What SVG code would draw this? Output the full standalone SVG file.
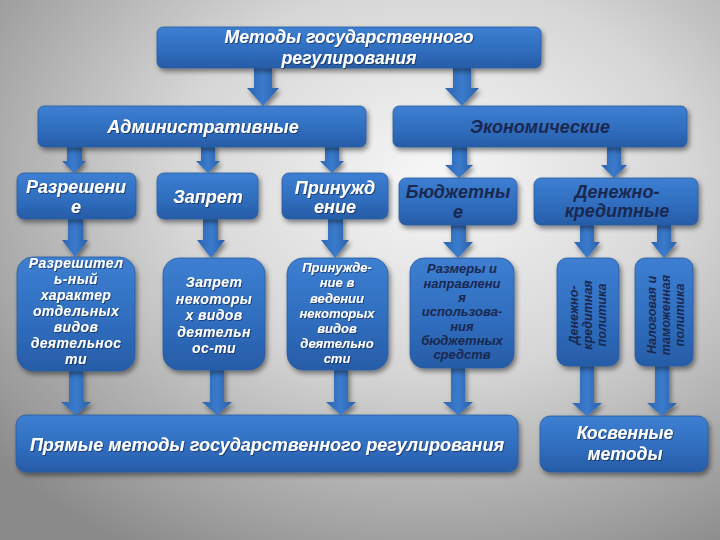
<svg xmlns="http://www.w3.org/2000/svg" width="720" height="540" viewBox="0 0 720 540">
  <defs>
    <radialGradient id="bg" cx="0.6" cy="0.33" r="0.8" fx="0.6" fy="0.33">
      <stop offset="0" stop-color="#f7f7f7"/>
      <stop offset="0.45" stop-color="#d6d6d6"/>
      <stop offset="1" stop-color="#8a8a8a"/>
    </radialGradient>
    <linearGradient id="boxg" x1="0" y1="0" x2="0" y2="1">
      <stop offset="0" stop-color="#3d7fd2"/>
      <stop offset="0.6" stop-color="#2f6cbd"/>
      <stop offset="1" stop-color="#275ca6"/>
    </linearGradient>
    <linearGradient id="arrg" x1="0" y1="0" x2="1" y2="0">
      <stop offset="0" stop-color="#2d65b2"/>
      <stop offset="0.5" stop-color="#3a7bcc"/>
      <stop offset="1" stop-color="#2a5fa8"/>
    </linearGradient>
    <filter id="sh" x="-10%" y="-10%" width="125%" height="135%">
      <feDropShadow dx="2" dy="3" stdDeviation="2.5" flood-color="#000" flood-opacity="0.45"/>
    </filter>
    <filter id="tsh" x="-5%" y="-20%" width="110%" height="150%">
      <feDropShadow dx="1" dy="1" stdDeviation="0.6" flood-color="#0a1a3a" flood-opacity="0.6"/>
    </filter>
  </defs>
  <style>
    .box { fill: url(#boxg); stroke: #2a5a9e; stroke-width: 0.8; filter: url(#sh); }
    .arr { fill: url(#arrg); filter: url(#sh); }
    text { font-family: "Liberation Sans", Arial, sans-serif; font-weight: bold; font-style: italic; text-anchor: middle; }
    .w { fill: #ffffff; filter: url(#tsh); }
    .n { fill: #1a2850; }
    .f18 { font-size: 18px; }
    .f17 { font-size: 17.6px; }
    .f14 { font-size: 14px; letter-spacing: 0.4px; }
    .f13 { font-size: 13px; }
    .f12 { font-size: 12.5px; }
  </style>

  <rect x="0" y="0" width="720" height="540" fill="url(#bg)"/>

  <g id="connectors">
    <polygon class="arr" points="254,66 272,66 272,88 279,88 263,106 247,88 254,88"/>
    <polygon class="arr" points="453,66 471,66 471,88 479,88 462,106 445,88 453,88"/>
    <polygon class="arr" points="67,145 82,145 82,161 86,161 74,173 62,161 67,161"/>
    <polygon class="arr" points="201,145 215,145 215,161 220,161 208,173 196,161 201,161"/>
    <polygon class="arr" points="325,145 339,145 339,161 344,161 332,173 320,161 325,161"/>
    <polygon class="arr" points="452,145 467,145 467,165 473,165 459,178 445,165 452,165"/>
    <polygon class="arr" points="607,145 621,145 621,165 627,165 614,178 601,165 607,165"/>
    <polygon class="arr" points="68,217 83,217 83,240 88,240 75,257 62,240 68,240"/>
    <polygon class="arr" points="203,217 218,217 218,240 225,240 211,258 197,240 203,240"/>
    <polygon class="arr" points="328,217 343,217 343,240 349,240 335,258 321,240 328,240"/>
    <polygon class="arr" points="451,223 466,223 466,242 473,242 458,258 443,242 451,242"/>
    <polygon class="arr" points="580,223 594,223 594,242 600,242 587,258 574,242 580,242"/>
    <polygon class="arr" points="657,223 671,223 671,242 677,242 664,258 651,242 657,242"/>
    <polygon class="arr" points="69,368 83,368 83,402 91,402 76,415 61,402 69,402"/>
    <polygon class="arr" points="210,368 224,368 224,402 232,402 217,415 202,402 210,402"/>
    <polygon class="arr" points="334,368 348,368 348,402 356,402 341,415 326,402 334,402"/>
    <polygon class="arr" points="451,366 465,366 465,402 473,402 458,415 443,402 451,402"/>
    <polygon class="arr" points="580,364 594,364 594,403 602,403 587,416 572,403 580,403"/>
    <polygon class="arr" points="655,364 669,364 669,403 677,403 662,416 647,403 655,403"/>
  </g>

  <g id="n-top">
    <rect class="box" x="157" y="27" width="384" height="41" rx="6"/>
    <text class="w f17" x="349" y="43">Методы государственного</text>
    <text class="w f17" x="349" y="64">регулирования</text>
  </g>

  <g id="n-admin">
    <rect class="box" x="38" y="106" width="328" height="41" rx="6"/>
    <text class="w f18" x="203" y="133">Административные</text>
  </g>

  <g id="n-econ">
    <rect class="box" x="393" y="106" width="294" height="41" rx="6"/>
    <text class="n f18" x="540" y="133">Экономические</text>
  </g>

  <g id="n-razresh">
    <rect class="box" x="17" y="173" width="119" height="46" rx="7"/>
    <text class="w f18" x="76" y="193">Разрешени</text>
    <text class="w f18" x="76" y="213">е</text>
  </g>

  <g id="n-zapret">
    <rect class="box" x="157" y="173" width="101" height="46" rx="7"/>
    <text class="w f18" x="208" y="203">Запрет</text>
  </g>

  <g id="n-prinuzh">
    <rect class="box" x="282" y="173" width="106" height="46" rx="7"/>
    <text class="w f18" x="335" y="194">Принужд</text>
    <text class="w f18" x="335" y="213">ение</text>
  </g>

  <g id="n-budget">
    <rect class="box" x="399" y="178" width="118" height="47" rx="7"/>
    <text class="n f18" x="458" y="198">Бюджетны</text>
    <text class="n f18" x="458" y="218">е</text>
  </g>

  <g id="n-denkred">
    <rect class="box" x="534" y="178" width="164" height="47" rx="7"/>
    <text class="n f18" x="617" y="198">Денежно-</text>
    <text class="n f18" x="617" y="217">кредитные</text>
  </g>

  <g id="n-razresh-detail">
    <rect class="box" x="17" y="257" width="118" height="114" rx="16"/>
    <text class="w f14" x="76" y="268">Разрешител</text>
    <text class="w f14" x="76" y="284">ь-ный</text>
    <text class="w f14" x="76" y="300">характер</text>
    <text class="w f14" x="76" y="316">отдельных</text>
    <text class="w f14" x="76" y="332">видов</text>
    <text class="w f14" x="76" y="348">деятельнос</text>
    <text class="w f14" x="76" y="364">ти</text>
  </g>

  <g id="n-zapret-detail">
    <rect class="box" x="163" y="258" width="102" height="112" rx="16"/>
    <text class="w f14" x="214" y="287">Запрет</text>
    <text class="w f14" x="214" y="303.5">некоторы</text>
    <text class="w f14" x="214" y="320">х видов</text>
    <text class="w f14" x="214" y="336.5">деятельн</text>
    <text class="w f14" x="214" y="353">ос-ти</text>
  </g>

  <g id="n-prinuzh-detail">
    <rect class="box" x="287" y="258" width="101" height="112" rx="16"/>
    <text class="w f13" x="337" y="272">Принужде-</text>
    <text class="w f13" x="337" y="287">ние в</text>
    <text class="w f13" x="337" y="302.5">ведении</text>
    <text class="w f13" x="337" y="317.5">некоторых</text>
    <text class="w f13" x="337" y="333">видов</text>
    <text class="w f13" x="337" y="348">деятельно</text>
    <text class="w f13" x="337" y="363">сти</text>
  </g>

  <g id="n-budget-detail">
    <rect class="box" x="410" y="258" width="104" height="110" rx="14"/>
    <text class="n f13" x="462" y="273">Размеры и</text>
    <text class="n f13" x="462" y="287.5">направлени</text>
    <text class="n f13" x="462" y="302">я</text>
    <text class="n f13" x="462" y="316">использова-</text>
    <text class="n f13" x="462" y="330.5">ния</text>
    <text class="n f13" x="462" y="344.5">бюджетных</text>
    <text class="n f13" x="462" y="359">средств</text>
  </g>

  <g id="n-denkred-policy">
    <rect class="box" x="557" y="258" width="62" height="108" rx="10"/>
    <text class="n f12" transform="translate(578,315) rotate(-90)">Денежно-</text>
    <text class="n f12" transform="translate(592,315) rotate(-90)">кредитная</text>
    <text class="n f12" transform="translate(606,315) rotate(-90)">политика</text>
  </g>

  <g id="n-tax-policy">
    <rect class="box" x="635" y="258" width="58" height="108" rx="10"/>
    <text class="n f12" transform="translate(656,315) rotate(-90)">Налоговая и</text>
    <text class="n f12" transform="translate(670,315) rotate(-90)">таможенная</text>
    <text class="n f12" transform="translate(684,315) rotate(-90)">политика</text>
  </g>

  <g id="n-direct">
    <rect class="box" x="16" y="415" width="502" height="57" rx="10"/>
    <text class="w f17" x="267" y="451" style="font-size:18px">Прямые методы государственного регулирования</text>
  </g>

  <g id="n-indirect">
    <rect class="box" x="540" y="416" width="168" height="56" rx="10"/>
    <text class="w f17" x="625" y="439">Косвенные</text>
    <text class="w f17" x="625" y="460">методы</text>
  </g>
</svg>
